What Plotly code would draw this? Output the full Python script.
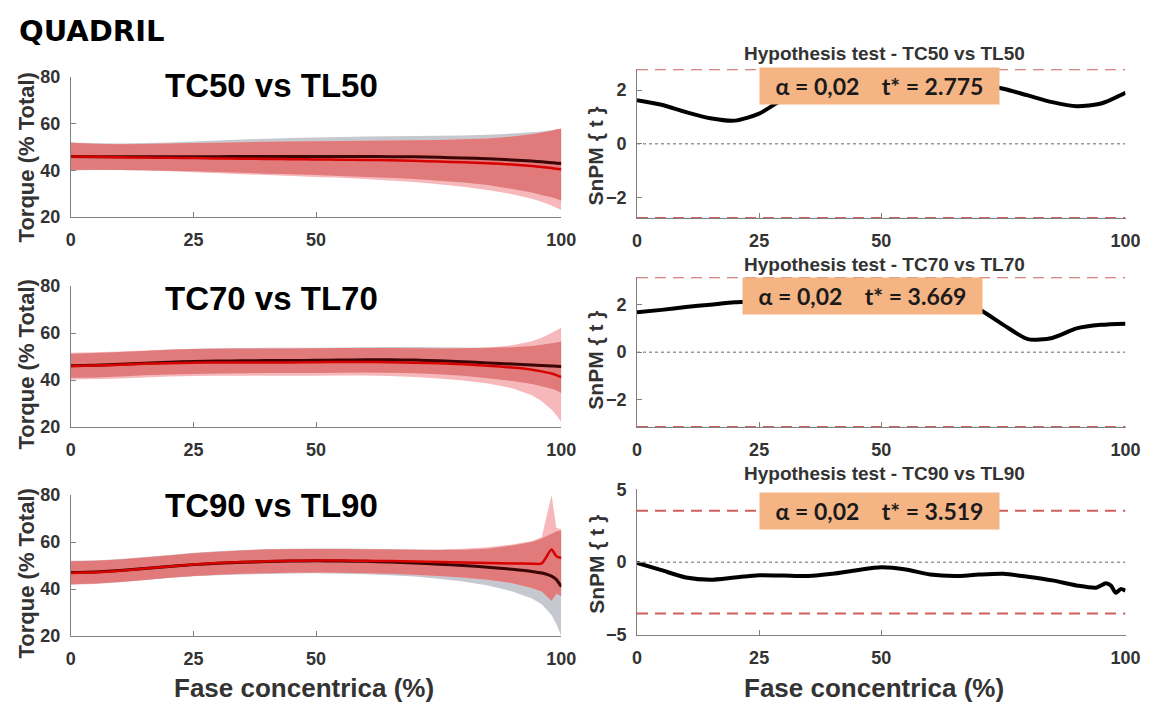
import numpy as np
import plotly.graph_objects as go

W, H = 1170, 717

# ---------------- DATA ----------------
x_pct = [0, 5, 10, 15, 20, 25, 30, 35, 40, 45, 50, 55, 60, 65, 70, 75, 80, 85, 90, 94, 96, 98, 99, 100]

# TC50 vs TL50
tc50_mean = [46.0, 45.9, 45.8, 45.8, 45.8, 45.9, 45.9, 46.0, 46.0, 46.0, 46.0, 46.0, 46.0, 45.9, 45.8, 45.6, 45.3, 45.0, 44.5, 44.0, 43.7, 43.3, 43.1, 43.0]
tl50_mean = [46.0, 45.8, 45.6, 45.5, 45.4, 45.3, 45.1, 45.0, 44.9, 44.8, 44.7, 44.6, 44.5, 44.3, 44.1, 43.8, 43.5, 43.1, 42.5, 41.9, 41.5, 41.0, 40.7, 40.5]
tc50_upper = [52.0, 51.6, 51.5, 51.7, 52.0, 52.4, 52.8, 53.2, 53.6, 53.9, 54.1, 54.3, 54.5, 54.6, 54.7, 54.8, 55.0, 55.3, 55.8, 56.3, 56.7, 57.2, 57.5, 57.8]
tc50_lower = [40.0, 40.2, 40.2, 40.1, 39.9, 39.6, 39.3, 39.0, 38.6, 38.3, 38.0, 37.6, 37.2, 36.8, 36.3, 35.6, 34.8, 33.7, 32.0, 30.5, 29.5, 28.5, 27.8, 27.0]
tl50_upper = [51.8, 51.4, 51.2, 51.3, 51.5, 51.7, 51.9, 52.1, 52.3, 52.4, 52.5, 52.6, 52.7, 52.8, 52.9, 53.0, 53.3, 53.7, 54.5, 55.5, 56.2, 57.0, 57.6, 58.0]
tl50_lower = [40.2, 40.3, 40.2, 40.0, 39.6, 39.2, 38.8, 38.4, 38.0, 37.6, 37.2, 36.8, 36.3, 35.7, 35.0, 34.1, 33.0, 31.6, 29.8, 27.8, 26.6, 25.0, 24.0, 23.0]

# TC70 vs TL70
tc70_mean = [46.1, 46.3, 46.7, 47.2, 47.6, 47.9, 48.1, 48.2, 48.3, 48.3, 48.4, 48.5, 48.6, 48.6, 48.5, 48.2, 47.8, 47.3, 46.8, 46.4, 46.2, 46.0, 45.9, 45.8]
tl70_mean = [46.0, 46.2, 46.5, 46.9, 47.2, 47.4, 47.5, 47.5, 47.5, 47.5, 47.6, 47.7, 47.7, 47.6, 47.4, 47.1, 46.7, 46.1, 45.3, 44.4, 43.7, 42.8, 42.1, 41.3]
tc70_upper = [51.2, 51.5, 51.9, 52.4, 52.9, 53.3, 53.5, 53.6, 53.7, 53.7, 53.8, 53.9, 54.0, 54.1, 54.1, 54.0, 53.9, 53.8, 54.0, 54.5, 55.0, 55.7, 56.0, 56.4]
tc70_lower = [41.0, 41.1, 41.5, 42.0, 42.4, 42.6, 42.8, 42.9, 43.0, 43.0, 43.0, 43.1, 43.2, 43.1, 42.9, 42.5, 41.8, 40.8, 39.6, 38.3, 37.4, 36.3, 35.5, 34.5]
tl70_upper = [51.6, 51.8, 52.2, 52.6, 53.0, 53.2, 53.3, 53.4, 53.4, 53.4, 53.5, 53.6, 53.6, 53.6, 53.5, 53.4, 53.5, 53.8, 54.8, 56.5, 58.0, 60.0, 61.2, 62.3]
tl70_lower = [40.2, 40.4, 40.7, 41.1, 41.5, 41.7, 41.8, 41.8, 41.8, 41.8, 41.8, 41.9, 41.9, 41.7, 41.3, 40.7, 39.8, 38.5, 36.5, 33.5, 31.0, 27.5, 25.0, 22.0]

# TC90 vs TL90
tc90_mean = [47.0, 47.3, 47.9, 48.7, 49.6, 50.4, 51.0, 51.4, 51.7, 51.9, 52.0, 51.9, 51.8, 51.5, 51.1, 50.6, 50.0, 49.3, 48.4, 47.5, 46.8, 45.5, 44.0, 41.0]
tl90_mean = [46.8, 47.1, 47.8, 48.7, 49.6, 50.5, 51.1, 51.5, 51.8, 52.0, 52.1, 52.1, 52.0, 51.9, 51.7, 51.5, 51.3, 51.1, 50.9, 50.8, 50.9, 56.8, 54.0, 53.2]
tc90_upper = [52.0, 52.2, 52.8, 53.6, 54.5, 55.4, 56.1, 56.6, 57.0, 57.2, 57.3, 57.3, 57.2, 57.0, 56.8, 56.6, 56.7, 57.2, 58.5, 60.0, 61.5, 63.5, 64.5, 65.0]
tc90_lower = [42.0, 42.4, 43.0, 43.8, 44.7, 45.4, 45.9, 46.2, 46.4, 46.6, 46.7, 46.5, 46.3, 45.9, 45.3, 44.4, 43.2, 41.5, 39.0, 36.0, 33.5, 29.0, 25.0, 20.0]
tl90_upper = [51.8, 52.0, 52.6, 53.4, 54.3, 55.2, 55.9, 56.4, 56.8, 57.0, 57.1, 57.0, 56.9, 56.8, 56.7, 56.8, 57.2, 57.8, 59.0, 60.5, 62.0, 80.0, 66.0, 65.5]
tl90_lower = [41.8, 42.2, 42.9, 43.8, 44.8, 45.6, 46.1, 46.5, 46.7, 46.9, 47.0, 46.9, 46.7, 46.5, 46.1, 45.6, 44.9, 44.0, 42.5, 40.5, 39.0, 35.0, 38.0, 37.0]

# SnPM t curves
t_x = [0, 5, 10, 15, 20, 25, 30, 35, 40, 45, 50, 55, 60, 65, 70, 75, 80, 85, 90, 95, 100]
t50 = [1.62, 1.45, 1.18, 0.95, 0.86, 1.12, 1.68, 2.15, 2.45, 2.6, 2.62, 2.55, 2.45, 2.35, 2.23, 2.05, 1.8, 1.55, 1.4, 1.5, 1.9]
t70 = [1.68, 1.78, 1.9, 2.0, 2.1, 2.15, 2.2, 2.25, 2.28, 2.3, 2.3, 2.28, 2.22, 2.1, 1.8, 1.15, 0.55, 0.6, 1.0, 1.15, 1.2]
t90_x = [0, 5, 10, 15, 20, 25, 30, 35, 40, 45, 50, 55, 60, 65, 70, 75, 80, 85, 90, 94, 96, 97, 98, 99, 100]
t90 = [-0.05, -0.55, -1.05, -1.2, -1.05, -0.9, -0.92, -0.95, -0.8, -0.55, -0.35, -0.5, -0.85, -0.95, -0.85, -0.8, -1.0, -1.25, -1.6, -1.75, -1.45, -1.6, -2.1, -1.85, -1.95]

thresholds_drawn = [2.775, 3.15, 3.519]
threshold_labels = ["2.775", "3.669", "3.519"]
alpha_label = "0,02"
snpm_ranges = [[-2.775, 2.775], [-3.15, 3.15], [-5, 5]]
snpm_ticks = [[-2, 0, 2], [-2, 0, 2], [-5, 0, 5]]
left_titles = ["TC50 vs TL50", "TC70 vs TL70", "TC90 vs TL90"]
right_titles = ["Hypothesis test - TC50 vs TL50", "Hypothesis test - TC70 vs TL70", "Hypothesis test - TC90 vs TL90"]
x_ticks = [0, 25, 50, 100]
torque_ticks = [20, 40, 60, 80]

# ---------------- LAYOUT GEOMETRY (pixels) ----------------
def px(xp):
    return xp / W

def py(yp):
    return 1 - yp / H

left_x = [67, 566]
right_x = [643, 1140]
left_rows = [(69, 213), (284, 429), (499, 644)]
right_rows = [(61, 214), (275, 429), (493, 643)]

GRAY = "rgb(197,200,206)"
PINK = "rgb(246,184,186)"
SALMON = "rgb(225,122,122)"
DARK = "rgb(60,5,5)"
RED = "rgb(215,0,0)"
AXC = "#808080"
TXT = "#333333"
FONT = "Liberation Sans"

fig = go.Figure()
layout = {}

left_sets = [
    (tc50_mean, tl50_mean, tc50_upper, tc50_lower, tl50_upper, tl50_lower),
    (tc70_mean, tl70_mean, tc70_upper, tc70_lower, tl70_upper, tl70_lower),
    (tc90_mean, tl90_mean, tc90_upper, tc90_lower, tl90_upper, tl90_lower),
]


def band(x, up, lo, color, xa, ya):
    xs = list(x) + list(x)[::-1]
    ys = list(up) + list(lo)[::-1]
    return go.Scatter(x=xs, y=ys, fill="toself", fillcolor=color, mode="none",
                      hoverinfo="skip", showlegend=False, xaxis=xa, yaxis=ya)


axis_common = dict(showgrid=False, zeroline=False, showline=True, linecolor=AXC, linewidth=1,
                   ticks="inside", ticklen=5, tickcolor=AXC, ticklabelstandoff=6,
                   tickfont=dict(family=FONT, size=18, color=TXT, weight="bold"))

for i in range(3):
    n_l = 2 * i + 1
    n_r = 2 * i + 2
    xa_l, ya_l = f"x{n_l}", f"y{n_l}"
    xa_r, ya_r = f"x{n_r}", f"y{n_r}"
    cm, rm, cu, cl, ru, rl = [np.array(a) for a in left_sets[i]]

    fig.add_trace(band(x_pct, cu, cl, GRAY, xa_l, ya_l))
    fig.add_trace(band(x_pct, ru, rl, PINK, xa_l, ya_l))
    ov_up = np.minimum(cu, ru)
    ov_lo = np.maximum(cl, rl)
    fig.add_trace(band(x_pct, ov_up, ov_lo, SALMON, xa_l, ya_l))
    fig.add_trace(go.Scatter(x=x_pct, y=cm, mode="lines", line=dict(color=DARK, width=3, shape="spline", smoothing=0.6),
                             showlegend=False, xaxis=xa_l, yaxis=ya_l))
    fig.add_trace(go.Scatter(x=x_pct, y=rm, mode="lines", line=dict(color=RED, width=2.5, shape="spline", smoothing=0.6),
                             showlegend=False, xaxis=xa_l, yaxis=ya_l))

    top, bot = left_rows[i]
    layout[f"xaxis{n_l}"] = dict(domain=[px(left_x[0]), px(left_x[1])], range=[0, 100], anchor=ya_l,
                                 tickvals=x_ticks, **axis_common)
    layout[f"yaxis{n_l}"] = dict(domain=[py(bot), py(top)], range=[20, 80], anchor=xa_l,
                                 tickvals=torque_ticks, **axis_common)

    # right panel
    thr = thresholds_drawn[i]
    tx = t90_x if i == 2 else t_x
    ty = [t50, t70, t90][i]
    fig.add_trace(go.Scatter(x=[0, 100], y=[0, 0], mode="lines", line=dict(color="#9a9a9a", width=1.5, dash="dot"),
                             showlegend=False, xaxis=xa_r, yaxis=ya_r))
    for s in (1, -1):
        fig.add_trace(go.Scatter(x=[0, 100], y=[s * thr, s * thr], mode="lines",
                                 line=dict(color="rgb(205,95,95)", width=2, dash="11px,7px"),
                                 showlegend=False, xaxis=xa_r, yaxis=ya_r))
    fig.add_trace(go.Scatter(x=tx, y=ty, mode="lines", line=dict(color="black", width=4, shape="spline", smoothing=0.7),
                             showlegend=False, xaxis=xa_r, yaxis=ya_r))
    top, bot = right_rows[i]
    layout[f"xaxis{n_r}"] = dict(domain=[px(right_x[0]), px(right_x[1])], range=[0, 100], anchor=ya_r,
                                 tickvals=x_ticks, **axis_common)
    layout[f"yaxis{n_r}"] = dict(domain=[py(bot), py(top)], range=snpm_ranges[i], anchor=xa_r,
                                 tickvals=snpm_ticks[i], **axis_common)

annotations = []


def txt(text, x, y, size, angle=0, color="black", family=FONT, **kw):
    annotations.append(dict(text=text, x=px(x), y=py(y), xref="paper", yref="paper", showarrow=False,
                            xanchor="center", yanchor="middle", textangle=angle,
                            font=dict(family=family, size=size, color=color, weight="bold"), **kw))


txt("QUADRIL", 88, 22, 29, family="DejaVu Sans")
left_title_y = [78, 297, 510]
right_title_y = [45, 262, 477]
box_pos = [(890, 78), (872, 294), (890, 515)]
ylab_left_y = [152, 365, 580]
ylab_right_y = [150, 360, 570]
for i in range(3):
    txt(left_titles[i], 271, left_title_y[i], 33)
    txt(right_titles[i], 895, right_title_y[i], 19, color=TXT)
    txt("Torque (% Total)", 22, ylab_left_y[i], 22, angle=-90, color=TXT)
    txt("SnPM { t }", 601, ylab_right_y[i], 21, angle=-90, color=TXT)
    bx, by = box_pos[i]
    label = "\u03b1 = " + alpha_label + "\u00a0\u00a0\u00a0\u00a0t* = " + threshold_labels[i]
    annotations.append(dict(text=label, x=px(bx), y=py(by), xref="paper", yref="paper", showarrow=False,
                            xanchor="center", yanchor="middle", width=239, height=36,
                            bgcolor="rgb(244,180,132)", borderpad=0,
                            font=dict(family="Lato", size=23, color="#1a1a1a", weight="bold")))

txt("Fase concentrica (%)", 304, 697, 26, color=TXT)
txt("Fase concentrica (%)", 884, 697, 26, color=TXT)

fig.update_layout(width=W, height=H, margin=dict(l=0, r=0, t=0, b=0), paper_bgcolor="white",
                  plot_bgcolor="rgba(0,0,0,0)", showlegend=False, annotations=annotations, **layout)

fig.write_html("out.html", config={"displayModeBar": False})
